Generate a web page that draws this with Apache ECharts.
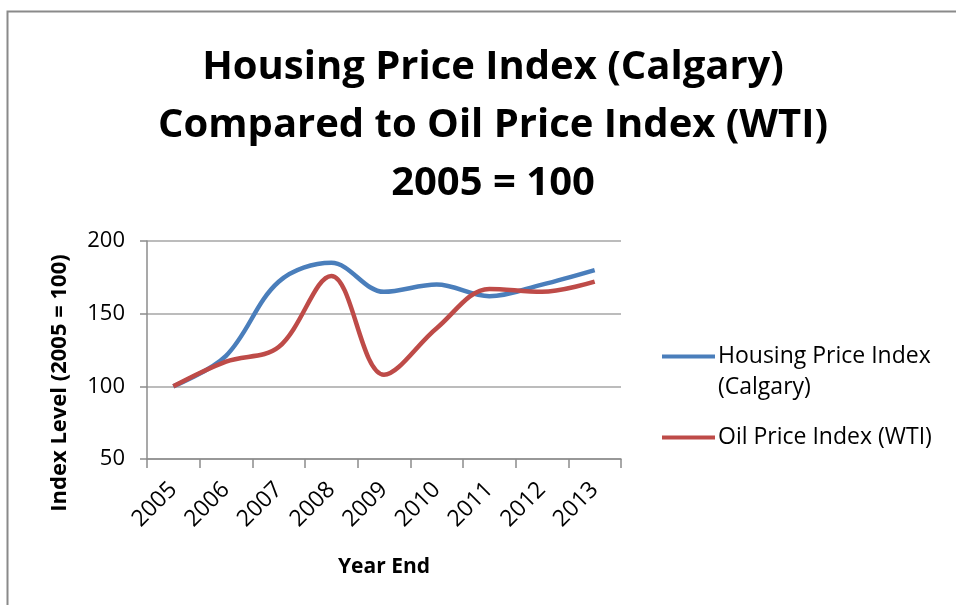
<!DOCTYPE html>
<html>
<head>
<meta charset="utf-8">
<script src="https://cdn.jsdelivr.net/npm/echarts@6/dist/echarts.min.js"></script>
<style>
html,body{margin:0;padding:0;background:#fff;}
#chart{width:956px;height:605px;}
</style>
</head>
<body>
<div id="chart"></div>
<script>
var titleText = 'Housing Price Index (Calgary)\nCompared to Oil Price Index (WTI)\n2005 = 100';
var xAxisName = 'Year End';
var yAxisName = 'Index Level (2005 = 100)';
var years = ['2005','2006','2007','2008','2009','2010','2011','2012','2013'];
var housingName = 'Housing Price Index\n(Calgary)';
var oilName = 'Oil Price Index (WTI)';
var housing = [100, 121, 172, 185, 165, 170, 162, 170, 180];
var oil = [100, 117, 127, 176, 108, 140, 167, 165, 172];
var yTicks = [50, 100, 150, 200];

var FONT = '"Open Sans", Lato, sans-serif';
var chart = echarts.init(document.getElementById('chart'));
chart.setOption({
  backgroundColor: '#ffffff',
  animation: false,
  title: {
    text: titleText,
    left: 488,
    top: 34,
    textAlign: 'center',
    textStyle: {fontFamily: FONT, fontSize: 40, fontWeight: 'bold', color: '#000', lineHeight: 58}
  },
  graphic: [
    {type: 'rect', shape: {x: 7.5, y: 11.5, width: 1200, height: 1200}, style: {fill: 'none', stroke: '#8a8a8a', lineWidth: 2}, silent: true},
    {type: 'text', x: 60, y: 383, rotation: Math.PI / 2,
     style: {text: yAxisName, fontFamily: FONT, fontSize: 22, fontWeight: 'bold', fill: '#000', align: 'center', verticalAlign: 'middle'}}
  ],
  legend: {
    orient: 'vertical',
    left: 662,
    top: 310,
    padding: 0,
    icon: 'rect',
    itemWidth: 53,
    itemHeight: 4,
    itemGap: 19,
    formatter: function (name) { return name === housingName ? ' \n' + name : name; },
    textStyle: {fontFamily: FONT, fontSize: 23, color: '#000', lineHeight: 31, padding: [0, 0, 0, -2]},
    data: [housingName, oilName]
  },
  grid: {left: 147, right: 335, top: 241, bottom: 146, containLabel: false},
  xAxis: {
    type: 'category',
    data: years,
    boundaryGap: true,
    name: xAxisName,
    nameLocation: 'middle',
    nameGap: 98,
    nameTextStyle: {fontFamily: FONT, fontSize: 21, fontWeight: 'bold', color: '#000'},
    axisLine: {lineStyle: {color: '#8c8c8c', width: 1.5}},
    axisTick: {show: true, alignWithLabel: false, length: 9, lineStyle: {color: '#8c8c8c', width: 1.5}},
    axisLabel: {rotate: 45, margin: 27, fontFamily: FONT, fontSize: 23, color: '#000'},
    splitLine: {show: false}
  },
  yAxis: {
    type: 'value',
    min: yTicks[0],
    max: yTicks[yTicks.length - 1],
    interval: 50,
    axisLine: {show: true, lineStyle: {color: '#8c8c8c', width: 1.5}},
    axisTick: {show: true, length: 7, lineStyle: {color: '#8c8c8c', width: 1.5}},
    axisLabel: {margin: 22, fontFamily: FONT, fontSize: 22, color: '#000'},
    splitLine: {show: true, lineStyle: {color: '#a6a6a6', width: 1.5}}
  },
  series: [
    {name: housingName, type: 'line', data: housing, smooth: 0.35, symbol: 'none',
     lineStyle: {color: '#4A7EBB', width: 4.5}, itemStyle: {color: '#4A7EBB'}},
    {name: oilName, type: 'line', data: oil, smooth: 0.35, symbol: 'none',
     lineStyle: {color: '#BE4B48', width: 4.5}, itemStyle: {color: '#BE4B48'}}
  ]
});
</script>
</body>
</html>
